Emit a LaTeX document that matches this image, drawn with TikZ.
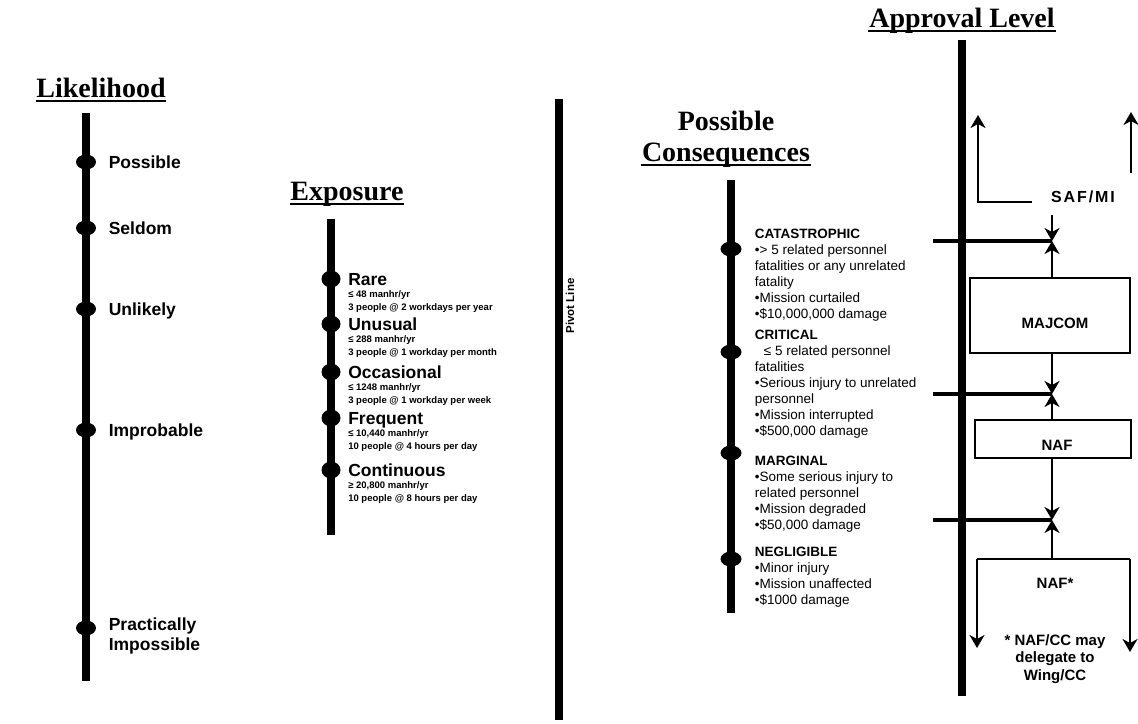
\documentclass[tikz,border=0pt]{standalone}
\usepackage{fontspec}
\setmainfont{Liberation Sans}
\newfontfamily\headfont{Liberation Serif}
\newfontfamily\widefont[LetterSpace=12]{Liberation Sans}
\usetikzlibrary{positioning, arrows.meta, shapes.geometric}

\begin{document}
\begin{tikzpicture}[x=1pt, y=-1pt, >={Stealth[length=13pt, width=15pt, inset=4pt]},
    line width=1.8pt, node distance=11pt,
    heading/.style={font=\headfont\bfseries\fontsize{28}{30}\selectfont, inner sep=0pt, anchor=base},
    underbar/.style={line width=1.8pt},
    scalebar/.style={line width=7.5pt},
    knob/.style={ellipse, fill, inner sep=0pt, minimum width=20pt, minimum height=15pt},
    lab/.style={font=\bfseries\fontsize{17.5}{20}\selectfont, inner sep=0pt},
    biglab/.style={lab, text height=12.6pt, text depth=0pt},
    small/.style={font=\bfseries\fontsize{9.5}{12.5}\selectfont, inner sep=0pt, align=left},
    conseq/.style={font=\fontsize{13.5}{16}\selectfont, inner sep=0pt, align=left, anchor=north west},
    tick/.style={line width=4.5pt},
    box/.style={draw, line width=1.6pt, inner sep=0pt},
    apptxt/.style={font=\bfseries\fontsize{15}{17.5}\selectfont, inner sep=0pt, align=center}]

  \useasboundingbox (0,0) rectangle (1138,723);

  % likelihood
  \node[heading] (likttl) at (101,97) {Likelihood};
  \draw[underbar] ([yshift=-4pt]likttl.base west) -- ([yshift=-4pt]likttl.base east);
  \draw[scalebar] (86,113) -- (86,681);
  \foreach \y/\nm in {162/possible, 228/seldom, 309/unlikely, 430/improbable, 628/practically}
    \node[knob] (\nm) at (86,\y) {};
  \node[biglab, right=of possible] (possiblelab) {Possible};
  \node[biglab, right=of seldom] (seldomlab) {Seldom};
  \node[biglab, right=of unlikely] (unlikelylab) {Unlikely};
  \node[biglab, right=of improbable] (improbablelab) {Improbable};
  \node[lab, align=left, right=of practically, yshift=-8pt] (practicallylab) {Practically\\Impossible};

  % exposure
  \node[heading] (expttl) at (347,200) {Exposure};
  \draw[underbar] ([yshift=-4pt]expttl.base west) -- ([yshift=-4pt]expttl.base east);
  \draw[scalebar] (331,219) -- (331,535);
  \foreach \y/\nm in {279/rare, 324/unusual, 372/occasional, 418/frequent, 470/continuous}
    \node[knob, minimum width=19pt, minimum height=17pt] (\nm) at (331,\y) {};
  \node[biglab, right=6pt of rare] (rarelab) {Rare};
  \node[small, below=4pt of rarelab.south west, anchor=north west] (raresub)
    {≤ 48 manhr/yr\\3 people @ 2 workdays per year};
  \node[biglab, right=6pt of unusual] (unusuallab) {Unusual};
  \node[small, below=4pt of unusuallab.south west, anchor=north west] (unusualsub)
    {≤ 288 manhr/yr\\3 people @ 1 workday per month};
  \node[biglab, right=6pt of occasional] (occasionallab) {Occasional};
  \node[small, below=4pt of occasionallab.south west, anchor=north west] (occasionalsub)
    {≤ 1248 manhr/yr\\3 people @ 1 workday per week};
  \node[biglab, right=6pt of frequent] (frequentlab) {Frequent};
  \node[small, below=4pt of frequentlab.south west, anchor=north west] (frequentsub)
    {≤ 10,440 manhr/yr\\10 people @ 4 hours per day};
  \node[biglab, right=6pt of continuous] (continuouslab) {Continuous};
  \node[small, below=4pt of continuouslab.south west, anchor=north west] (continuoussub)
    {≥ 20,800 manhr/yr\\10 people @ 8 hours per day};

  % pivot
  \draw[scalebar] (559,99) -- (559,720);
  \node[font=\bfseries\fontsize{11.5}{13}\selectfont, rotate=90, inner sep=0pt] (pivlab) at (570,306) {Pivot Line};

  % consequences
  \node[heading] (posttl) at (726,130) {Possible};
  \node[heading] (conttl) at (726,161) {Consequences};
  \draw[underbar] ([yshift=-4pt]conttl.base west) -- ([yshift=-4pt]conttl.base east);
  \draw[scalebar] (731,180) -- (731,613);
  \foreach \y/\nm in {249/catastrophic, 352/critical, 453/marginal, 559/negligible}
    \node[knob, minimum width=21pt] (\nm) at (731,\y) {};
  \node[conseq] (catastrophictxt) at (754,228)
    {\textbf{CATASTROPHIC}\\•> 5 related personnel\\fatalities or any unrelated\\fatality\\•Mission curtailed\\•\$10,000,000 damage};
  \node[conseq] (criticaltxt) at (754,329)
    {\textbf{CRITICAL}\\\hspace*{9pt}≤ 5 related personnel\\fatalities\\•Serious injury to unrelated\\personnel\\•Mission interrupted\\•\$500,000 damage};
  \node[conseq] (marginaltxt) at (754,455)
    {\textbf{MARGINAL}\\•Some serious injury to\\related personnel\\•Mission degraded\\•\$50,000 damage};
  \node[conseq] (negligibletxt) at (754,546)
    {\textbf{NEGLIGIBLE}\\•Minor injury\\•Mission unaffected\\•\$1000 damage};

  % approval level
  \node[heading] (appttl) at (962,27) {Approval Level};
  \draw[underbar] ([yshift=-4pt]appttl.base west) -- ([yshift=-4pt]appttl.base east);
  \draw[scalebar] (962,40) -- (962,696);

  \node[font=\widefont\bfseries\fontsize{16}{18}\selectfont, inner sep=0pt] (safmi) at (1083,197) {SAF/MI};
  \coordinate (bend) at (1032,202);
  \coordinate (uptipL) at (978,115);
  \coordinate (upR) at (1131,173);
  \coordinate (uptipR) at (1131,112);
  \draw[->] (bend) -| (uptipL);
  \draw[->] (upR) -- (uptipR);

  \coordinate (j1) at (1052,241);
  \coordinate (j2) at (1052,394);
  \coordinate (j3) at (1052,520);
  \coordinate (c1) at (933,241);
  \coordinate (c2) at (933,394);
  \coordinate (c3) at (933,520);
  \coordinate (s1) at (1052,215);
  \draw[tick] (c1) -- (j1);
  \draw[tick] (c2) -- (j2);
  \draw[tick] (c3) -- (j3);

  \node[box, minimum width=160pt, minimum height=75pt] (majcom) at (1050,315.5) {};
  \node[apptxt] (majcomtxt) at (1055,323) {MAJCOM};
  \node[box, minimum width=156pt, minimum height=38pt] (naf) at (1053,439) {};
  \node[apptxt] (naftxt) at (1057,445) {NAF};

  \draw[->] (s1) -- (j1);
  \draw[->] (j1 |- majcom.north) -- (j1);
  \draw[->] (j1 |- majcom.south) -- (j2);
  \draw[->] (j2 |- naf.north) -- (j2);
  \draw[->] (j2 |- naf.south) -- (j3);

  \coordinate (brL) at (977,559);
  \coordinate (brR) at (1130,559);
  \coordinate (tipL) at (977,648);
  \coordinate (tipR) at (1130,652);
  \draw (brL) -- (brR);
  \draw[->] (brL) -- (tipL);
  \draw[->] (brR) -- (tipR);
  \draw[->] (j3 |- brL) -- (j3);

  \node[apptxt] (nafstar) at (1055,583) {NAF*};
  \node[apptxt] (delegate) at (1055,659) {* NAF/CC may\\delegate to\\Wing/CC};
\end{tikzpicture}
\end{document}
